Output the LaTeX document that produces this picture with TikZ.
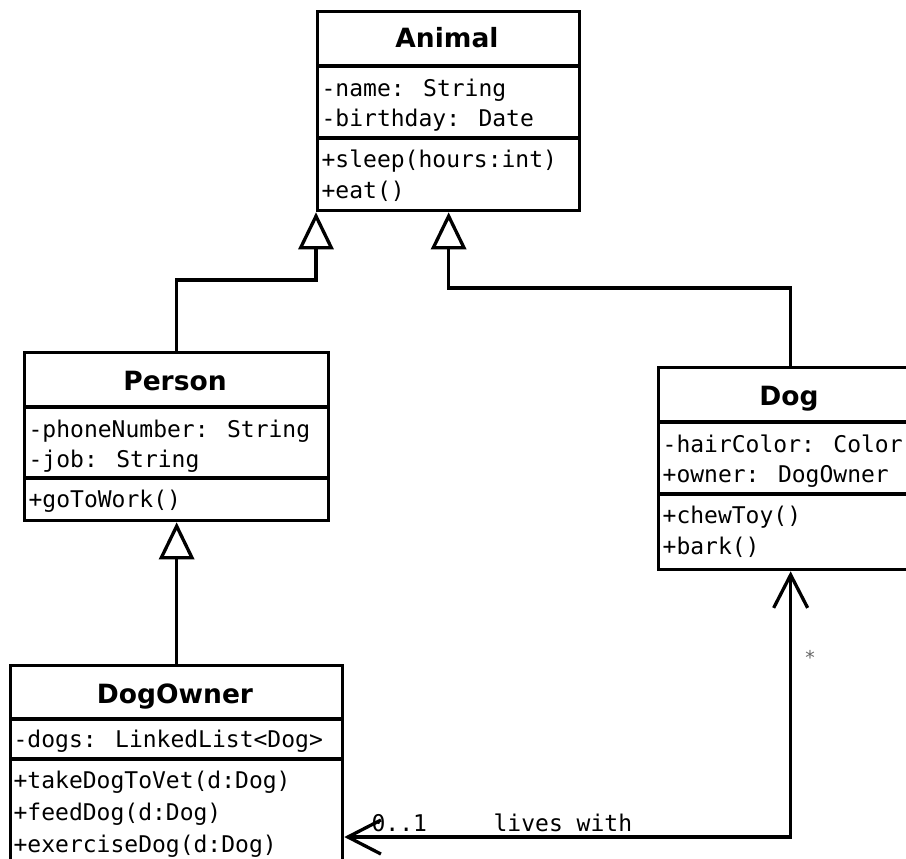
\documentclass[tikz,border=0pt]{standalone}
\usepackage{fontspec}
\newfontfamily\monof{DejaVu Sans Mono}
\newfontfamily\titlef{DejaVu Sans}
\usetikzlibrary{arrows.meta}
\begin{document}
\begin{tikzpicture}[x=1pt,y=-1pt,line width=3.3pt,
  cls/.style={draw,rectangle,inner sep=0pt,anchor=north west,line width=3.3pt},
  ttl/.style={anchor=base,inner sep=0pt,font=\titlef\bfseries\fontsize{26.5}{30}\selectfont},
  mem/.style={anchor=base west,inner sep=0pt,font=\monof\fontsize{23}{28}\selectfont},
  gen/.style={-{Triangle[open,fill=white,length=37pt,width=35pt]},line width=3.3pt},
  assoc/.style={{Straight Barb[length=33pt,width=34pt]}-{Straight Barb[length=33pt,width=34pt]},line width=3.3pt}
]
\useasboundingbox (0,0) rectangle (906,859);
\clip (0,0) rectangle (906,859);
\fill[white] (0,0) rectangle (906,859);

% Animal
\node[cls,minimum width=262pt,minimum height=199pt] (Animal) at (316,10) {};
\node[ttl] (AnimalT) at (447,48) {Animal};
\draw (Animal.west |- 0,66) -- (Animal.east |- 0,66);
\draw (Animal.west |- 0,138) -- (Animal.east |- 0,138);
\node[mem] (a1) at (320,96) {-name: String};
\node[mem] (a2) at (320,127) {-birthday: Date};
\node[mem] (a3) at (320,167) {+sleep(hours:int)};
\node[mem] (a4) at (320,198) {+eat()};

% Person
\node[cls,minimum width=304pt,minimum height=168pt] (Person) at (23,351) {};
\node[ttl] (PersonT) at (175,390) {Person};
\draw (Person.west |- 0,407) -- (Person.east |- 0,407);
\draw (Person.west |- 0,478) -- (Person.east |- 0,478);
\node[mem] (p1) at (27,437) {-phoneNumber: String};
\node[mem] (p2) at (27,467) {-job: String};
\node[mem] (p3) at (27,507) {+goToWork()};

% Dog
\node[cls,minimum width=264pt,minimum height=202pt] (Dog) at (657,366) {};
\node[ttl] (DogT) at (789,405) {Dog};
\draw (Dog.west |- 0,422) -- (Dog.east |- 0,422);
\draw (Dog.west |- 0,494) -- (Dog.east |- 0,494);
\node[mem] (d1) at (661,452) {-hairColor: Color};
\node[mem] (d2) at (661,482) {+owner: DogOwner};
\node[mem] (d3) at (661,523) {+chewToy()};
\node[mem] (d4) at (661,554) {+bark()};

% DogOwner
\node[cls,minimum width=332pt,minimum height=240pt] (DogOwner) at (9,664) {};
\node[ttl] (DogOwnerT) at (175,703) {DogOwner};
\draw (DogOwner.west |- 0,719) -- (DogOwner.east |- 0,719);
\draw (DogOwner.west |- 0,759) -- (DogOwner.east |- 0,759);
\node[mem] (o1) at (12,747) {-dogs: LinkedList<Dog>};
\node[mem] (o2) at (12,788) {+takeDogToVet(d:Dog)};
\node[mem] (o3) at (12,820) {+feedDog(d:Dog)};
\node[mem] (o4) at (12,852) {+exerciseDog(d:Dog)};

% generalizations
\draw[gen] (Person.north) -- ++(0,-71) -| (Animal.south west);
\draw[gen] (Dog.north) -- ++(0,-78) -| (Animal.south);
\draw[gen] (DogOwner.north) -- (Person.south);

% association
\coordinate (corner) at (Dog.south |- 0,837);
\draw[assoc] (DogOwner.east |- corner) -- (corner) -- (Dog.south);
\node[mem] (m1) at (370,831) {0..1};
\node[mem] (lw) at (492,831) {lives with};
\node[font=\monof\fontsize{19}{19}\selectfont,text=black!60,inner sep=0pt] (star) at (810,657) {*};
\end{tikzpicture}
\end{document}
